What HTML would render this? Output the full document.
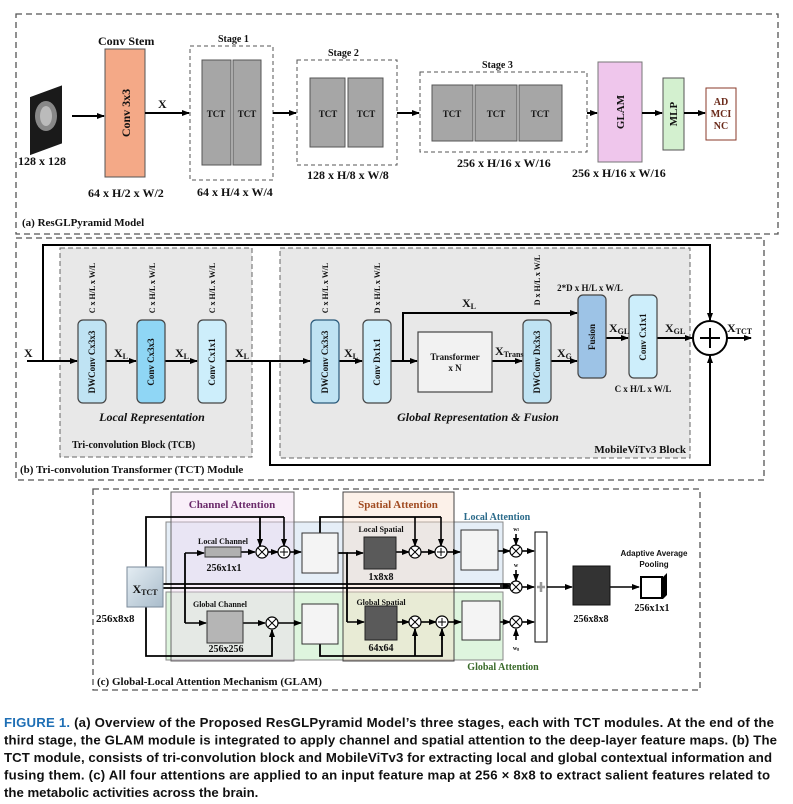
<!DOCTYPE html>
<html><head><meta charset="utf-8"><style>
body{margin:0;background:#fff;}
svg text{font-family:"Liberation Serif",serif;font-weight:bold;fill:#111;}
.s{font-family:"Liberation Sans",sans-serif!important;}
</style></head><body>
<svg width="793" height="799" viewBox="0 0 793 799" xmlns="http://www.w3.org/2000/svg">
<defs>
<marker id="a" markerWidth="8" markerHeight="8" refX="7" refY="4" orient="auto" markerUnits="userSpaceOnUse"><path d="M0,1 L8,4 L0,7z" fill="#000"/></marker>
<linearGradient id="g1" x1="0" y1="0" x2="1" y2="1"><stop offset="0" stop-color="#e4edf3"/><stop offset="1" stop-color="#a9bccb"/></linearGradient>
</defs>
<g stroke="#555" stroke-dasharray="6,4" fill="none" stroke-width="1.3">
<rect x="16" y="14" width="762" height="220"/>
<rect x="16" y="238" width="748" height="242"/>
<rect x="93" y="489" width="607" height="201"/>
</g>
<!-- (a) -->
<rect x="30" y="90" width="32" height="58" fill="#1a1a1a" transform="skewY(-20) translate(0,18)"/>
<ellipse cx="46" cy="116" rx="11" ry="15" fill="#888"/>
<ellipse cx="46" cy="116" rx="6" ry="10" fill="#bbb"/>
<text x="18" y="165" font-size="12">128 x 128</text>
<line x1="72" y1="116" x2="104" y2="116" stroke="#000" stroke-width="2" marker-end="url(#a)"/>
<text x="98" y="45" font-size="12">Conv Stem</text>
<rect x="105" y="49" width="40" height="128" fill="#f4a987" stroke="#555"/>
<text transform="translate(130,113) rotate(-90)" font-size="12" text-anchor="middle">Conv 3x3</text>
<text x="88" y="197" font-size="12">64 x H/2 x W/2</text>
<text x="158" y="108" font-size="12">X</text>
<line x1="145" y1="113" x2="189" y2="113" stroke="#000" stroke-width="2" marker-end="url(#a)"/>
<text x="218" y="42" font-size="10">Stage 1</text>
<rect x="190" y="46" width="83" height="134" fill="none" stroke="#555" stroke-dasharray="4,3"/>
<rect x="202" y="60" width="29" height="105" fill="#a6a6a6" stroke="#555"/><rect x="233" y="60" width="28" height="105" fill="#a6a6a6" stroke="#555"/>
<text x="216" y="117" font-size="9" text-anchor="middle">TCT</text><text x="247" y="117" font-size="9" text-anchor="middle">TCT</text>
<text x="197" y="196" font-size="12">64 x H/4 x W/4</text>
<line x1="273" y1="113" x2="296" y2="113" stroke="#000" stroke-width="2" marker-end="url(#a)"/>
<text x="328" y="56" font-size="10">Stage 2</text>
<rect x="297" y="60" width="100" height="105" fill="none" stroke="#555" stroke-dasharray="4,3"/>
<rect x="310" y="78" width="35" height="69" fill="#a6a6a6" stroke="#555"/><rect x="348" y="78" width="35" height="69" fill="#a6a6a6" stroke="#555"/>
<text x="328" y="117" font-size="9" text-anchor="middle">TCT</text><text x="366" y="117" font-size="9" text-anchor="middle">TCT</text>
<text x="307" y="179" font-size="12">128 x H/8 x W/8</text>
<line x1="397" y1="113" x2="419" y2="113" stroke="#000" stroke-width="2" marker-end="url(#a)"/>
<text x="482" y="68" font-size="10">Stage 3</text>
<rect x="420" y="72" width="167" height="80" fill="none" stroke="#555" stroke-dasharray="4,3"/>
<rect x="432" y="85" width="41" height="56" fill="#a6a6a6" stroke="#555"/><rect x="475" y="85" width="42" height="56" fill="#a6a6a6" stroke="#555"/><rect x="519" y="85" width="43" height="56" fill="#a6a6a6" stroke="#555"/>
<text x="452" y="117" font-size="9" text-anchor="middle">TCT</text><text x="496" y="117" font-size="9" text-anchor="middle">TCT</text><text x="540" y="117" font-size="9" text-anchor="middle">TCT</text>
<text x="457" y="167" font-size="12">256 x H/16 x W/16</text>
<line x1="587" y1="113" x2="597" y2="113" stroke="#000" stroke-width="2" marker-end="url(#a)"/>
<rect x="598" y="62" width="44" height="100" fill="#efc6ec" stroke="#777"/>
<text transform="translate(624,112) rotate(-90)" font-size="11" text-anchor="middle">GLAM</text>
<text x="572" y="177" font-size="12">256 x H/16 x W/16</text>
<line x1="642" y1="113" x2="662" y2="113" stroke="#000" stroke-width="2" marker-end="url(#a)"/>
<rect x="663" y="78" width="21" height="72" fill="#d3f0cf" stroke="#555"/>
<text transform="translate(677,114) rotate(-90)" font-size="11" text-anchor="middle">MLP</text>
<line x1="684" y1="113" x2="705" y2="113" stroke="#000" stroke-width="2" marker-end="url(#a)"/>
<rect x="706" y="88" width="30" height="52" fill="#fff" stroke="#8a3a2a"/>
<text x="721" y="105" font-size="10" text-anchor="middle" style="fill:#6a2a1a">AD</text><text x="721" y="117" font-size="10" text-anchor="middle" style="fill:#6a2a1a">MCI</text><text x="721" y="129" font-size="10" text-anchor="middle" style="fill:#6a2a1a">NC</text>
<text x="22" y="226" font-size="11">(a) ResGLPyramid Model</text>
<!-- (b) -->
<rect x="60" y="248" width="192" height="209" fill="#e8e8e8" stroke="#666" stroke-dasharray="5,3"/>
<rect x="280" y="248" width="410" height="210" fill="#e8e8e8" stroke="#666" stroke-dasharray="5,3"/>
<g fill="none" stroke="#000" stroke-width="2">
<polyline points="27,361 43,361 43,245 710,245 710,318" />
<polyline points="226,361 270,361 270,465 710,465 710,357"/>
<polyline points="391,361 403,361 403,313 576,313"/>
</g>
<g stroke="#000" stroke-width="2" marker-end="url(#a)">
<line x1="43" y1="361" x2="77" y2="361"/><line x1="106" y1="361" x2="136" y2="361"/><line x1="165" y1="361" x2="197" y2="361"/>
<line x1="270" y1="361" x2="310" y2="361"/><line x1="339" y1="361" x2="362" y2="361"/><line x1="403" y1="361" x2="417" y2="361"/>
<line x1="492" y1="361" x2="522" y2="361"/><line x1="551" y1="361" x2="577" y2="361"/><line x1="570" y1="313" x2="577" y2="313"/>
<line x1="606" y1="338" x2="628" y2="338"/><line x1="657" y1="338" x2="692" y2="338"/><line x1="710" y1="310" x2="710" y2="320"/><line x1="710" y1="365" x2="710" y2="356"/><line x1="727" y1="338" x2="751" y2="338"/>
</g>
<g stroke="#444" stroke-width="1.2">
<rect x="78" y="320" width="28" height="83" rx="5" fill="#bfe3f3"/>
<rect x="137" y="320" width="28" height="83" rx="5" fill="#8fd6f5"/>
<rect x="198" y="320" width="28" height="83" rx="5" fill="#cdeefb"/>
<rect x="311" y="320" width="28" height="83" rx="5" fill="#bfe3f3" stroke="#2a5a7a"/>
<rect x="363" y="320" width="28" height="83" rx="5" fill="#cdeefb"/>
<rect x="418" y="332" width="74" height="60" fill="#f2f2f2"/>
<rect x="523" y="320" width="28" height="83" rx="5" fill="#bfe3f3"/>
<rect x="578" y="295" width="28" height="83" rx="5" fill="#9dc3e6"/>
<rect x="629" y="295" width="28" height="83" rx="5" fill="#cdeefb"/>
</g>
<circle cx="710" cy="338" r="17" fill="#fff" stroke="#000" stroke-width="2"/>
<path d="M700,338h20M710,328v20" stroke="#000" stroke-width="2"/>
<g font-size="9" text-anchor="middle">
<text transform="translate(95,362) rotate(-90)">DWConv Cx3x3</text>
<text transform="translate(154,362) rotate(-90)">Conv Cx3x3</text>
<text transform="translate(215,362) rotate(-90)">Conv Cx1x1</text>
<text transform="translate(328,362) rotate(-90)">DWConv Cx3x3</text>
<text transform="translate(380,362) rotate(-90)">Conv Dx1x1</text>
<text transform="translate(540,362) rotate(-90)">DWConv Dx3x3</text>
<text transform="translate(595,337) rotate(-90)">Fusion</text>
<text transform="translate(646,337) rotate(-90)">Conv Cx1x1</text>
<text transform="translate(95,288) rotate(-90)" x="0" style="font-size:8px">C x H/L x W/L</text>
<text transform="translate(155,288) rotate(-90)" style="font-size:8px">C x H/L x W/L</text>
<text transform="translate(215,288) rotate(-90)" style="font-size:8px">C x H/L x W/L</text>
<text transform="translate(328,288) rotate(-90)" style="font-size:8px">C x H/L x W/L</text>
<text transform="translate(380,288) rotate(-90)" style="font-size:8px">D x H/L x W/L</text>
<text transform="translate(540,280) rotate(-90)" style="font-size:8px">D x H/L x W/L</text>
<text x="455" y="360">Transformer</text><text x="455" y="371">x N</text>
<text x="590" y="291">2*D x H/L x W/L</text>
<text x="643" y="392">C x H/L x W/L</text>
</g>
<g font-size="12">
<text x="24" y="357">X</text>
<text x="114" y="357">X<tspan font-size="8" dy="2">L</tspan></text>
<text x="175" y="357">X<tspan font-size="8" dy="2">L</tspan></text>
<text x="235" y="357">X<tspan font-size="8" dy="2">L</tspan></text>
<text x="344" y="357">X<tspan font-size="8" dy="2">L</tspan></text>
<text x="462" y="307">X<tspan font-size="8" dy="2">L</tspan></text>
<text x="495" y="355">X<tspan font-size="8" dy="2">Trans</tspan></text>
<text x="557" y="357">X<tspan font-size="8" dy="2">G</tspan></text>
<text x="609" y="332">X<tspan font-size="8" dy="2">GL</tspan></text>
<text x="665" y="332">X<tspan font-size="8" dy="2">GL</tspan></text>
<text x="727" y="332">X<tspan font-size="8" dy="2">TCT</tspan></text>
</g>
<text x="152" y="421" font-size="12" text-anchor="middle" font-style="italic">Local Representation</text>
<text x="478" y="421" font-size="12" text-anchor="middle" font-style="italic">Global Representation &amp; Fusion</text>
<text x="72" y="448" font-size="10">Tri-convolution Block (TCB)</text>
<text x="686" y="453" font-size="11" text-anchor="end">MobileViTv3 Block</text>
<text x="20" y="473" font-size="11">(b) Tri-convolution Transformer (TCT) Module</text>
<!-- (c) -->
<rect x="166" y="522" width="337" height="62" fill="#dfeaf5" fill-opacity="0.8" stroke="#888"/>
<rect x="166" y="592" width="337" height="68" fill="#d6f2d6" fill-opacity="0.8" stroke="#888"/>
<rect x="171" y="492" width="123" height="169" fill="#f0d6f0" fill-opacity="0.4" stroke="#666"/>
<rect x="343" y="492" width="111" height="169" fill="#f8dcc8" fill-opacity="0.4" stroke="#444"/>
<text x="232" y="508" font-size="11" text-anchor="middle" style="fill:#6a2a6a">Channel Attention</text>
<text x="398" y="508" font-size="11" text-anchor="middle" style="fill:#a04a20">Spatial Attention</text>
<text x="497" y="520" font-size="10" text-anchor="middle" style="fill:#2a6a8a">Local Attention</text>
<text x="503" y="670" font-size="10" text-anchor="middle" style="fill:#3a6a2a">Global Attention</text>
<g fill="none" stroke="#000" stroke-width="1.8">
<polyline points="146,567 146,517 284,517"/>
<polyline points="146,607 146,656 272,656 272,630"/>
<polyline points="163,584 510,584"/><line x1="163" y1="588" x2="510" y2="588"/>
<polyline points="185,553 185,623"/>
<polyline points="320,533 320,517 441,517"/>
<polyline points="320,644 320,656 442,656 442,629"/>
<polyline points="338,553 347,553 347,622"/>
<line x1="415" y1="656" x2="415" y2="629"/>
<line x1="260" y1="517" x2="260" y2="546"/>
</g>
<g stroke="#000" stroke-width="1.6" marker-end="url(#a)">
<line x1="284" y1="517" x2="284" y2="546"/><line x1="260" y1="530" x2="260" y2="546"/>
<line x1="185" y1="553" x2="204" y2="553"/><line x1="185" y1="623" x2="206" y2="623"/>
<line x1="241" y1="552" x2="255" y2="552"/><line x1="268" y1="552" x2="278" y2="552"/><line x1="290" y1="552" x2="301" y2="552"/>
<line x1="243" y1="623" x2="265" y2="623"/><line x1="278" y1="623" x2="301" y2="623"/>
<line x1="272" y1="640" x2="272" y2="630"/>
<line x1="415" y1="517" x2="415" y2="546"/><line x1="441" y1="517" x2="441" y2="546"/>
<line x1="347" y1="553" x2="363" y2="553"/><line x1="347" y1="622" x2="364" y2="622"/>
<line x1="396" y1="552" x2="409" y2="552"/><line x1="421" y1="552" x2="435" y2="552"/><line x1="447" y1="552" x2="460" y2="552"/>
<line x1="397" y1="622" x2="409" y2="622"/><line x1="421" y1="622" x2="436" y2="622"/><line x1="448" y1="622" x2="461" y2="622"/>
<line x1="415" y1="640" x2="415" y2="629"/><line x1="442" y1="640" x2="442" y2="629"/>
<line x1="498" y1="551" x2="510" y2="551"/><line x1="500" y1="622" x2="510" y2="622"/><line x1="500" y1="586" x2="510" y2="586"/>
<line x1="522" y1="551" x2="534" y2="551"/><line x1="522" y1="587" x2="534" y2="587"/><line x1="522" y1="622" x2="534" y2="622"/>
<line x1="516" y1="534" x2="516" y2="545"/><line x1="516" y1="570" x2="516" y2="581"/><line x1="516" y1="640" x2="516" y2="629"/>
<line x1="547" y1="587" x2="572" y2="587"/><line x1="610" y1="587" x2="639" y2="587"/>
</g>
<rect x="127" y="567" width="36" height="40" fill="url(#g1)" stroke="#7a8a9a"/>
<text x="145" y="593" font-size="12" text-anchor="middle">X<tspan font-size="8" dy="2">TCT</tspan></text>
<text x="96" y="622" font-size="11">256x8x8</text>
<text x="223" y="544" font-size="8" text-anchor="middle">Local Channel</text>
<rect x="205" y="547" width="36" height="10" fill="#b0b0b0" stroke="#333"/>
<text x="224" y="571" font-size="10" text-anchor="middle">256x1x1</text>
<text x="220" y="607" font-size="8" text-anchor="middle">Global Channel</text>
<rect x="207" y="611" width="36" height="32" fill="#b5b5b5" stroke="#333"/>
<text x="226" y="652" font-size="10" text-anchor="middle">256x256</text>
<rect x="302" y="533" width="36" height="40" fill="#f4f4f4" stroke="#333"/>
<rect x="302" y="604" width="36" height="40" fill="#f4f4f4" stroke="#333"/>
<text x="381" y="532" font-size="8" text-anchor="middle">Local Spatial</text>
<rect x="364" y="537" width="32" height="32" fill="#5a5a5a" stroke="#222"/>
<text x="381" y="580" font-size="10" text-anchor="middle">1x8x8</text>
<text x="381" y="605" font-size="8" text-anchor="middle">Global Spatial</text>
<rect x="365" y="606" width="32" height="34" fill="#5a5a5a" stroke="#222"/>
<text x="381" y="651" font-size="10" text-anchor="middle">64x64</text>
<rect x="461" y="530" width="37" height="40" fill="#f4f4f4" stroke="#333"/>
<rect x="462" y="601" width="38" height="39" fill="#f4f4f4" stroke="#333"/>
<g fill="#fff" stroke="#000" stroke-width="1.2">
<circle cx="262" cy="552" r="6"/><circle cx="284" cy="552" r="6"/><circle cx="272" cy="623" r="6"/>
<circle cx="415" cy="552" r="6"/><circle cx="441" cy="552" r="6"/><circle cx="415" cy="622" r="6"/><circle cx="442" cy="622" r="6"/>
<circle cx="516" cy="551" r="6"/><circle cx="516" cy="587" r="6"/><circle cx="516" cy="622" r="6"/>
</g>
<g stroke="#000" stroke-width="1">
<path d="M258,548l8,8M266,548l-8,8"/><path d="M280,552h8M284,548v8"/>
<path d="M268,619l8,8M276,619l-8,8"/>
<path d="M411,548l8,8M419,548l-8,8M411,618l8,8M419,618l-8,8"/>
<path d="M437,552h8M441,548v8M438,622h8M442,618v8"/>
<path d="M512,547l8,8M520,547l-8,8M512,583l8,8M520,583l-8,8M512,618l8,8M520,618l-8,8"/>
</g>
<text x="516" y="531" font-size="6" text-anchor="middle">w<tspan font-size="4">l</tspan></text>
<text x="516" y="567" font-size="6" text-anchor="middle">w</text>
<text x="516" y="650" font-size="6" text-anchor="middle">w<tspan font-size="4">g</tspan></text>
<rect x="535" y="532" width="12" height="110" fill="#fff" stroke="#000"/>
<path d="M537,587h8M541,582v10" stroke="#999" stroke-width="2.5"/>
<rect x="573" y="566" width="37" height="39" fill="#333" stroke="#111"/>
<text x="591" y="622" font-size="10" text-anchor="middle">256x8x8</text>
<text x="654" y="556" font-size="8" text-anchor="middle" class="s">Adaptive Average</text>
<text x="654" y="567" font-size="8" text-anchor="middle" class="s">Pooling</text>
<path d="M643,577h20l4,-4v22l-4,4h-20z" fill="#000"/>
<rect x="641" y="577" width="21" height="21" fill="#fff" stroke="#000" stroke-width="2"/>
<text x="652" y="611" font-size="10" text-anchor="middle">256x1x1</text>
<text x="97" y="685" font-size="11">(c) Global-Local Attention Mechanism (GLAM)</text>
<!-- caption -->
<g font-size="13.2">
<text x="4" y="727" class="s" textLength="770" lengthAdjust="spacing"><tspan style="fill:#1f6fb5">FIGURE 1.</tspan> (a) Overview of the Proposed ResGLPyramid Model’s three stages, each with TCT modules. At the end of the</text>
<text x="4" y="744.5" class="s" textLength="773" lengthAdjust="spacing">third stage, the GLAM module is integrated to apply channel and spatial attention to the deep-layer feature maps. (b) The</text>
<text x="4" y="762" class="s" textLength="768" lengthAdjust="spacing">TCT module, consists of tri-convolution block and MobileViTv3 for extracting local and global contextual information and</text>
<text x="4" y="779.5" class="s" textLength="766" lengthAdjust="spacing">fusing them. (c) All four attentions are applied to an input feature map at 256 × 8x8 to extract salient features related to</text>
<text x="4" y="797" class="s">the metabolic activities across the brain.</text>
</g>
</svg>
</body></html>
